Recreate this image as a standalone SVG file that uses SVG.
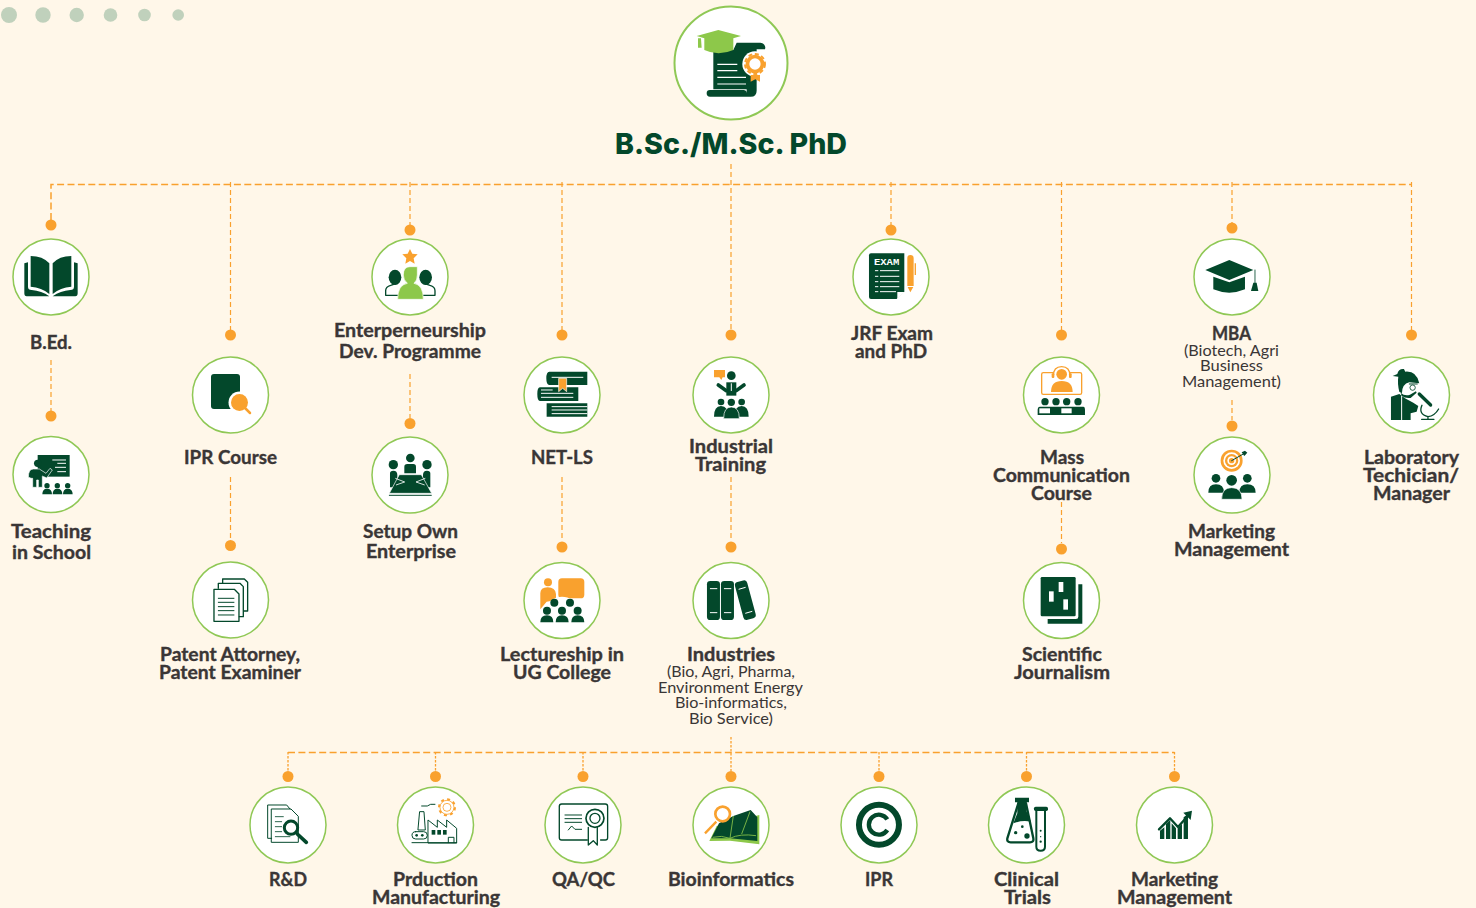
<svg xmlns="http://www.w3.org/2000/svg" width="1476" height="908" viewBox="0 0 1476 908">
<style>
.ring{fill:#fff;stroke:#8fc855;stroke-width:1.5}
.dot{fill:#f9a12e}
.bg{fill:#c0d1bc}
.t{font-family:"Lato","Open Sans",sans-serif;font-weight:700;font-size:18px;fill:#3a3636;stroke:#3a3636;stroke-width:.35}
.s{font-family:"Lato","Open Sans",sans-serif;font-weight:400;font-size:15px;fill:#3a3636}
.title{font-family:"Inter","Open Sans",sans-serif;font-weight:800;font-size:29px;fill:#03482b}
.h{fill:none;stroke:#f9a12e;stroke-width:1.5;stroke-dasharray:7 3.4}
.v{fill:none;stroke:#f9a12e;stroke-width:1.2;stroke-dasharray:5 3}
.vs{fill:none;stroke:#f9a12e;stroke-width:1.3;stroke-dasharray:2.500 1.500}
.d{fill:#03482b}.o{fill:#f9a12e}.g{fill:#8dc84a}.w{fill:#fff}
.ds{fill:none;stroke:#03482b;stroke-width:4;stroke-linecap:round;stroke-linejoin:round}
.ws{fill:none;stroke:#fff;stroke-width:3.5}
.os{fill:none;stroke:#f9a12e;stroke-width:4}
</style>
<rect width="1476" height="908" fill="#fff7e9"/>
<g id="decor"><circle class="bg" cx="9" cy="15" r="8"/><circle class="bg" cx="43" cy="15" r="7.700"/><circle class="bg" cx="76.700" cy="15" r="7.200"/><circle class="bg" cx="110.500" cy="15" r="6.800"/><circle class="bg" cx="144.500" cy="15" r="6.300"/><circle class="bg" cx="178.200" cy="15" r="5.800"/></g>
<g id="connectors">
<path class="h" d="M51 220V184.500H1411.500"/>
<path class="h" d="M288 752.500H1174.500"/>
<path class="v" d="M230.500 182V330M410 182V225M562 182V330M731 164V330M891 182V225M1061.500 182V330M1232 182V223M1411.500 182V330"/>
<path class="v" d="M51 360V411M230.500 477V540M410 374V418M562 477V541M731 477V541M1061.500 502V543M1232 400V420"/>
<path class="vs" d="M288 752V771M435.500 752V771M583 752V771M731 737V771M879 752V771M1026.500 752V771M1174.500 752V771"/>
<g id="dots"><circle class="dot" cx="51" cy="225" r="5.500"/><circle class="dot" cx="51" cy="416" r="5.500"/><circle class="dot" cx="230.500" cy="335" r="5.500"/><circle class="dot" cx="230.500" cy="545.500" r="5.500"/><circle class="dot" cx="410" cy="230" r="5.500"/><circle class="dot" cx="410" cy="423.500" r="5.500"/><circle class="dot" cx="562" cy="335" r="5.500"/><circle class="dot" cx="562" cy="547" r="5.500"/><circle class="dot" cx="731" cy="335" r="5.500"/><circle class="dot" cx="731" cy="547" r="5.500"/><circle class="dot" cx="891" cy="230" r="5.500"/><circle class="dot" cx="1061.500" cy="335" r="5.500"/><circle class="dot" cx="1061.500" cy="549" r="5.500"/><circle class="dot" cx="1232" cy="228" r="5.500"/><circle class="dot" cx="1232" cy="426" r="5.500"/><circle class="dot" cx="1411.500" cy="335" r="5.500"/><circle class="dot" cx="288" cy="776.500" r="5.500"/><circle class="dot" cx="435.500" cy="776.500" r="5.500"/><circle class="dot" cx="583" cy="776.500" r="5.500"/><circle class="dot" cx="731" cy="776.500" r="5.500"/><circle class="dot" cx="879" cy="776.500" r="5.500"/><circle class="dot" cx="1026.500" cy="776.500" r="5.500"/><circle class="dot" cx="1174.500" cy="776.500" r="5.500"/></g>
</g>

<g id="root"><circle class="ring" cx="731" cy="63" r="56.500" style="stroke-width:2"/>
<g transform="translate(600 0) scale(.3333)">
<path class="d" d="M340 150H400L410 128H480A15 15 0 0 1 495 148H470V272Q470 290 452 290H330A10 10 0 0 1 330 270H430Q440 270 440 280V268H340Z"/>
<path class="ws" d="M352 193H412M352 212H412M352 232H438M352 252H438"/>
<path class="g" d="M290 108L355 90L423 108L400 115V150Q355 170 313 150V115ZM294 115H303L305 143H294Z"/>
<circle class="w" cx="465" cy="192" r="38"/>
<path class="o" d="M452 225H480V245L466 238L452 245Z"/>
<circle class="o" cx="465" cy="192" r="28"/><circle cx="465" cy="192" r="30" fill="none" stroke="#f9a12e" stroke-width="6" stroke-dasharray="12 8"/><circle class="w" cx="465" cy="192" r="17"/>
</g>
<text class="title" x="615" y="154" textLength="232" lengthAdjust="spacingAndGlyphs">B.Sc./M.Sc. PhD</text></g>

<g id="bed"><circle class="ring" cx="51" cy="277" r="38"/>
<g transform="scale(.3333)">
<path class="d" d="M92 768Q128 768 148 790V882Q125 862 92 860ZM214 768Q178 768 158 790V882Q181 862 214 860ZM73 790L84 787V860Q84 870 95 870Q125 872 148 889H80Q73 889 73 880ZM233 790L222 787V860Q222 870 211 870Q181 872 158 889H226Q233 889 233 880Z"/>
</g>
<text class="t" x="30" y="349" textLength="42" lengthAdjust="spacingAndGlyphs">B.Ed.</text></g>

<g id="teaching"><circle class="ring" cx="51" cy="474.500" r="38"/>
<g transform="translate(0 400) scale(.3333)">
<rect class="d" x="113" y="165" width="96" height="65"/>
<path class="ws" d="M157 180H198M172 190H198M165 202H198M172 215H198" style="stroke-width:3"/>
<path class="d" d="M85 232Q85 207 100 207H118L138 220L150 205L157 210L140 234L127 228V262H115V240H110V262H98V235H92V234Z" stroke="#fff" stroke-width="2"/>
<circle class="d" cx="113" cy="190" r="11"/>
<path class="d" d="M127 283Q127 266 141 266Q156 266 156 283ZM158 283Q158 266 172 266Q187 266 187 283ZM189 283Q189 266 203 266Q218 266 218 283Z"/>
<circle class="d" cx="141" cy="257" r="8"/><circle class="d" cx="172" cy="257" r="8"/><circle class="d" cx="203" cy="257" r="8"/>
</g>
<text class="t" x="11" y="538" textLength="80" lengthAdjust="spacingAndGlyphs">Teaching</text><text class="t" x="12" y="559" textLength="79" lengthAdjust="spacingAndGlyphs">in School</text></g>

<g id="ipr-course"><circle class="ring" cx="230.500" cy="395" r="38"/>
<rect class="d" x="211" y="374" width="29" height="35" rx="3"/><circle class="w" cx="239.500" cy="402.500" r="11"/><circle class="o" cx="239.500" cy="402.500" r="8.500"/><path d="M245 408L250 413" stroke="#f9a12e" stroke-width="2.500" stroke-linecap="round"/>
<text class="t" x="184" y="464" textLength="93" lengthAdjust="spacingAndGlyphs">IPR Course</text></g>

<g id="patent"><circle class="ring" cx="230.500" cy="600" r="38"/>
<g transform="translate(0 400) scale(.3333)">
<path class="ds" d="M668 548V537H733L743 547V633H731M655 565V550H720L730 560V650H718" stroke-linecap="butt"/>
<path class="ds" d="M642 568H703L717 582V664H642Z"/>
<path class="ds" d="M655 595H702M655 607H702M655 620H702M655 632H702M655 645H702" style="stroke-width:3"/>
</g>
<text class="t" x="160" y="661" textLength="140" lengthAdjust="spacingAndGlyphs">Patent Attorney,</text><text class="t" x="159" y="679" textLength="142" lengthAdjust="spacingAndGlyphs">Patent Examiner</text></g>

<g id="enterpreneurship"><circle class="ring" cx="410" cy="277" r="38"/>
<g transform="translate(320 220) scale(.3333)">
<path class="o" d="M270 87L277 101L293 103L281 115L284 131L270 123L256 131L259 115L247 103L263 101Z"/>
<ellipse class="d" cx="225" cy="172" rx="19" ry="23"/><ellipse class="d" cx="317" cy="172" rx="19" ry="23"/>
<path class="ds" d="M197 226V212Q197 200 212 196L228 191M345 226V212Q345 200 330 196L314 191M197 226H235M345 226H305"/>
<path class="g" d="M233 238Q233 195 262 190Q250 180 250 165Q250 140 270 140H292V165Q292 182 282 190Q310 195 310 238Z" stroke="#fff" stroke-width="2"/>
</g>
<text class="t" x="334" y="337" textLength="152" lengthAdjust="spacingAndGlyphs">Enterperneurship</text><text class="t" x="339" y="358" textLength="142" lengthAdjust="spacingAndGlyphs">Dev. Programme</text></g>

<g id="setup"><circle class="ring" cx="410" cy="475" r="38"/>
<g transform="translate(350 430) scale(.3333)">
<circle class="d" cx="130" cy="104" r="14"/><circle class="d" cx="181" cy="84" r="13"/><circle class="d" cx="231" cy="104" r="14"/>
<path class="d" d="M163 130V110Q163 102 172 102H190Q198 102 198 110V130Z"/>
<path class="d" d="M120 172V130Q120 122 130 122Q142 122 142 135V172ZM241 172V130Q241 122 231 122Q219 122 219 135V172Z"/>
<path class="d" d="M148 134H214L245 190H118Z" stroke="#fff" stroke-width="2"/>
<path class="ws" d="M136 145L164 156L138 165M226 145L198 156L224 165" style="stroke-width:2.500"/>
<path class="ds" d="M118 196H244" style="stroke-width:3"/>
</g>
<text class="t" x="363" y="537.500" textLength="95" lengthAdjust="spacingAndGlyphs">Setup Own</text><text class="t" x="366" y="558" textLength="90" lengthAdjust="spacingAndGlyphs">Enterprise</text></g>

<g id="net-ls"><circle class="ring" cx="562" cy="395" r="38"/>
<g transform="translate(320 220) scale(.3333)">
<path class="d" d="M688 455H802V495H688Q679 495 679 475Q679 455 688 455ZM660 502H775V543H660Q652 543 652 522Q652 502 660 502ZM680 550H802V590H680Z"/>
<path class="ws" d="M695 472H790M663 510H698M663 520H760M663 532H760M695 560H802M695 570H802M695 581H802" style="stroke-width:3"/>
<path class="o" d="M716 475H740V515L728 505L716 515Z" stroke="#fff" stroke-width="2"/>
</g>
<text class="t" x="531" y="464" textLength="62" lengthAdjust="spacingAndGlyphs">NET-LS</text></g>

<g id="lectureship"><circle class="ring" cx="562" cy="600.500" r="38"/>
<g transform="translate(350 430) scale(.3333)">
<circle class="o" cx="594" cy="457" r="12"/>
<path class="o" d="M571 538V490Q571 472 593 472Q616 472 618 492V510L590 515Z"/>
<rect class="o" x="625" y="445" width="78" height="60" rx="11"/>
<ellipse class="w" cx="636" cy="530" rx="42" ry="30"/>
<circle class="d" cx="613" cy="518" r="12"/><circle class="d" cx="660" cy="518" r="12"/><circle class="d" cx="591" cy="542" r="12"/><circle class="d" cx="636" cy="542" r="12"/><circle class="d" cx="683" cy="542" r="12"/>
<path class="d" d="M571 577Q571 556 591 556Q610 556 610 577ZM617 577Q617 556 636 556Q656 556 656 577ZM664 577Q664 556 683 556Q703 556 703 577Z"/>
</g>
<text class="t" x="500" y="661" textLength="124" lengthAdjust="spacingAndGlyphs">Lectureship in</text><text class="t" x="513" y="679" textLength="98" lengthAdjust="spacingAndGlyphs">UG College</text></g>

<g id="training"><circle class="ring" cx="731" cy="395" r="38"/>
<g transform="translate(660 220) scale(.3333)">
<path class="o" d="M162 450H195V472H188L184 480L178 472H162Z"/>
<circle class="d" cx="214" cy="467" r="13"/>
<path class="d" d="M199 487H229V527H199Z"/>
<path class="ds" d="M175 495L199 512M252 495L229 512" style="stroke-width:11"/>
<path class="ws" d="M214 490V513" style="stroke-width:3"/>
<circle class="d" cx="183" cy="546" r="10"/><circle class="d" cx="245" cy="546" r="10"/>
<path class="d" d="M162 590Q162 558 183 558Q205 558 205 590ZM223 590Q223 558 245 558Q266 558 266 590Z"/>
<circle class="d" cx="214" cy="547" r="11"/>
<path class="d" d="M191 596Q191 561 214 561Q238 561 238 596Z" stroke="#fff" stroke-width="2"/>
</g>
<text class="t" x="689" y="453" textLength="84" lengthAdjust="spacingAndGlyphs">Industrial</text><text class="t" x="695" y="471" textLength="71" lengthAdjust="spacingAndGlyphs">Training</text></g>

<g id="industries"><circle class="ring" cx="731" cy="600.500" r="38"/>
<g transform="translate(350 430) scale(.3333)">
<rect class="d" x="1071" y="453" width="39" height="117" rx="10"/><rect class="d" x="1113" y="453" width="39" height="117" rx="10"/><rect class="d" x="1167" y="452" width="38" height="117" rx="10" transform="rotate(-15 1186 510)"/>
<path class="ws" d="M1080 476H1102M1080 548H1102M1122 476H1144M1122 548H1144M1166 478L1187 472M1186 550L1207 544" style="stroke-width:3"/>
</g>
<text class="t" x="687" y="661" textLength="88" lengthAdjust="spacingAndGlyphs">Industries</text>
<text class="s" x="667" y="677" textLength="128" lengthAdjust="spacingAndGlyphs">(Bio, Agri, Pharma,</text><text class="s" x="658" y="692.500" textLength="145" lengthAdjust="spacingAndGlyphs">Environment Energy</text><text class="s" x="675" y="708" textLength="112" lengthAdjust="spacingAndGlyphs">Bio-informatics,</text><text class="s" x="689" y="723.500" textLength="84" lengthAdjust="spacingAndGlyphs">Bio Service)</text></g>

<g id="jrf"><circle class="ring" cx="891" cy="277" r="38"/>
<g transform="translate(660 220) scale(.3333)">
<path class="d" d="M633 100H733V214L710 237H633Q627 237 627 231V106Q627 100 633 100Z"/>
<path class="w" d="M712 237V216H733Z"/>
<path class="ws" d="M660 152H718M660 169H718M660 185H718M660 200H718M660 215H708M645 152H655M645 169H655M645 185H655M645 200H655M645 215H655" style="stroke-width:3"/>
<text x="642" y="134" font-family="Liberation Mono,monospace" font-weight="700" font-size="28" fill="#fff" textLength="76" lengthAdjust="spacingAndGlyphs">EXAM</text>
<path class="o" d="M742 115Q742 105 751 105Q761 105 761 115V198H742ZM743 201H760L751 217ZM764 130H768V165H764Z"/>
</g>
<text class="t" x="851" y="340" textLength="82" lengthAdjust="spacingAndGlyphs">JRF Exam</text><text class="t" x="855" y="358" textLength="72" lengthAdjust="spacingAndGlyphs">and PhD</text></g>

<g id="mass"><circle class="ring" cx="1061.500" cy="395" r="38"/>
<g transform="translate(1000 220) scale(.3333)">
<rect x="125" y="458" width="120" height="65" rx="5" class="os" style="stroke-width:4"/>
<circle class="w" cx="185" cy="462" r="25"/>
<path class="os" d="M160 468Q160 440 185 440Q210 440 210 468"/>
<rect class="o" x="155" y="460" width="8" height="14" rx="3"/><rect class="o" x="207" y="460" width="8" height="14" rx="3"/>
<circle class="o" cx="185" cy="463" r="16"/>
<path class="o" d="M153 516Q153 483 185 483Q218 483 218 516Z"/>
<circle class="d" cx="135" cy="545" r="11"/><circle class="d" cx="168" cy="545" r="11"/><circle class="d" cx="200" cy="545" r="11"/><circle class="d" cx="234" cy="545" r="11"/>
<path class="d" d="M120 560H250Q255 560 255 570V585H113V570Q113 560 120 560Z"/>
<rect class="w" x="118" y="565" width="32" height="15"/><rect class="w" x="184" y="565" width="31" height="15"/>
</g>
<text class="t" x="1040" y="464" textLength="44" lengthAdjust="spacingAndGlyphs">Mass</text><text class="t" x="993" y="482" textLength="137" lengthAdjust="spacingAndGlyphs">Communication</text><text class="t" x="1031" y="500" textLength="61" lengthAdjust="spacingAndGlyphs">Course</text></g>

<g id="journalism"><circle class="ring" cx="1061.500" cy="600.500" r="38"/>
<g transform="translate(1000 520) scale(.3333)">
<rect class="d" x="122" y="171" width="105" height="118" rx="4"/>
<path class="d" d="M235 193H247V311H143V297H228Q235 297 235 290Z"/>
<rect class="w" x="147" y="214" width="14" height="31"/><rect class="w" x="176" y="186" width="14" height="30"/><rect class="w" x="190" y="238" width="14" height="31"/>
</g>
<text class="t" x="1022" y="661" textLength="80" lengthAdjust="spacingAndGlyphs">Scientific</text><text class="t" x="1014" y="679" textLength="96" lengthAdjust="spacingAndGlyphs">Journalism</text></g>

<g id="mba"><circle class="ring" cx="1232" cy="277" r="38"/>
<g transform="translate(1000 220) scale(.3333)">
<path class="d" d="M616 150L688 120L760 150L688 180ZM640 170L688 187L735 170V208Q688 228 640 208Z"/>
<path class="ds" d="M765 150V190" style="stroke-width:2.500"/>
<path class="d" d="M760 188H770L775 213H753Z"/>
</g>
<text class="t" x="1212" y="340" textLength="39" lengthAdjust="spacingAndGlyphs">MBA</text>
<text class="s" x="1184" y="355.500" textLength="95" lengthAdjust="spacingAndGlyphs">(Biotech, Agri</text><text class="s" x="1200" y="371" textLength="63" lengthAdjust="spacingAndGlyphs">Business</text><text class="s" x="1182" y="387" textLength="99" lengthAdjust="spacingAndGlyphs">Management)</text></g>

<g id="marketing"><circle class="ring" cx="1232" cy="475" r="38"/>
<g transform="translate(1000 220) scale(.3333)">
<circle class="o" cx="695" cy="722" r="33"/><circle class="w" cx="695" cy="722" r="25"/><circle class="o" cx="695" cy="722" r="20"/><circle class="w" cx="695" cy="722" r="13"/><circle class="o" cx="695" cy="722" r="8"/>
<path class="ds" d="M695 722L730 702" style="stroke-width:3"/><path class="d" d="M725 697L735 692L742 698L733 708Z"/>
<circle class="d" cx="648" cy="775" r="13"/><circle class="d" cx="742" cy="775" r="13"/><circle class="d" cx="695" cy="781" r="16"/>
<path class="d" d="M625 818Q625 793 648 793Q672 793 672 818ZM718 818Q718 793 742 793Q767 793 767 818Z"/>
<path class="d" d="M665 838Q665 803 695 803Q726 803 726 838Z" stroke="#fff" stroke-width="2"/>
</g>
<text class="t" x="1188" y="537.500" textLength="87" lengthAdjust="spacingAndGlyphs">Marketing</text><text class="t" x="1174" y="555.500" textLength="115" lengthAdjust="spacingAndGlyphs">Management</text></g>

<g id="lab"><circle class="ring" cx="1411.500" cy="395" r="38"/>
<g transform="translate(1000 220) scale(.3333)">
<path class="d" d="M1173 600V530L1198 522L1215 535L1240 548L1255 558L1250 575L1232 580V600Z"/>
<path class="ws" d="M1205 528V600" style="stroke-width:3"/>
<path class="d" d="M1178 468L1192 462Q1196 445 1212 447L1216 455Q1250 452 1258 490L1228 487Q1206 492 1206 520L1198 515Q1192 490 1195 470Z"/>
<path class="ds" d="M1228 492H1252" style="stroke-width:3"/>
<circle cx="1238" cy="503" r="8" fill="none" stroke="#03482b" stroke-width="2.500"/>
<path class="d" d="M1202 518Q1215 530 1230 524L1248 514L1250 518L1232 534Q1215 536 1205 527Z"/>
<path class="ds" d="M1258 522L1292 555" style="stroke-width:10"/>
<path class="ds" d="M1266 556Q1254 582 1284 590Q1304 588 1316 567M1265 598H1302M1284 590V598" style="stroke-width:4"/>
</g>
<text class="t" x="1364" y="464" textLength="95" lengthAdjust="spacingAndGlyphs">Laboratory</text><text class="t" x="1363" y="482" textLength="96" lengthAdjust="spacingAndGlyphs">Techician/</text><text class="t" x="1373" y="500" textLength="77" lengthAdjust="spacingAndGlyphs">Manager</text></g>

<g id="rd"><circle class="ring" cx="288" cy="825" r="38"/>
<g transform="translate(240 740) scale(.3333)">
<path class="ds" d="M95 295H83V195H140L150 207M95 207H153L175 229V307H95Z" style="stroke-width:3"/>
<path class="ds" d="M106 230H130M106 245H125M106 260H125M106 275H125M106 290H150" style="stroke-width:2.500"/>
<circle cx="153" cy="263" r="20" fill="#fff" stroke="#03482b" stroke-width="9"/>
<path class="ds" d="M172 282L199 307" style="stroke-width:11"/>
</g>
<text class="t" x="269" y="886" textLength="38" lengthAdjust="spacingAndGlyphs">R&amp;D</text></g>

<g id="production"><circle class="ring" cx="435.500" cy="825" r="38"/>
<g transform="translate(240 740) scale(.3333)">
<circle cx="621" cy="202" r="24" fill="none" stroke="#f9a12e" stroke-width="6" stroke-dasharray="9 9.800"/><circle cx="621" cy="202" r="21" class="os" style="stroke-width:2.500"/><circle cx="621" cy="202" r="12" class="os" style="stroke-width:2.500"/>
<path class="ds" d="M545 198H562L572 193H585M540 215H552L556 270H535Z" style="stroke-width:3"/>
<path class="ds" d="M564 308V240L592 262V240L620 262V240L650 265V308ZM516 308H650M625 308V292H642V308" style="stroke-width:3"/>
<rect class="d" x="575" y="270" width="11" height="14"/><rect class="d" x="592" y="270" width="11" height="14"/><rect class="d" x="609" y="270" width="11" height="14"/>
<rect x="516" y="275" width="46" height="22" rx="11" class="ds" style="stroke-width:3"/>
<circle class="d" cx="530" cy="286" r="4"/><circle class="d" cx="547" cy="286" r="4"/>
</g>
<text class="t" x="393" y="886" textLength="85" lengthAdjust="spacingAndGlyphs">Prduction</text><text class="t" x="372" y="904" textLength="128" lengthAdjust="spacingAndGlyphs">Manufacturing</text></g>

<g id="qa"><circle class="ring" cx="583" cy="825" r="38"/>
<g transform="translate(240 740) scale(.3333)">
<path class="ds" d="M1042 300H965Q958 300 958 293V199Q958 192 965 192H1096Q1103 192 1103 199V293Q1103 300 1096 300H1082" style="stroke-width:4"/>
<path class="ds" d="M975 225H1025M975 236H1025M975 247H1025M985 270L995 258L1005 268H1025" style="stroke-width:3"/>
<path class="ds" d="M1045 262V315L1060 302L1072 315V262" style="stroke-width:4"/>
<circle cx="1065" cy="235" r="27" fill="#fff" stroke="#03482b" stroke-width="5"/><circle cx="1065" cy="235" r="15" class="ds"/>
</g>
<text class="t" x="552" y="886" textLength="63" lengthAdjust="spacingAndGlyphs">QA/QC</text></g>

<g id="bioinformatics"><circle class="ring" cx="731" cy="825" r="38"/>
<g transform="translate(650 740) scale(.3333)">
<path class="g" d="M178 303L200 258L328 225V313L240 302Z"/>
<path class="d" d="M184 295L207 250L250 228L302 210L322 232V303L240 295Z"/>
<path d="M240 295L250 228M275 282L300 215M240 295Q270 280 318 287M188 292Q215 285 240 295" fill="none" stroke="#8dc84a" stroke-width="2.500"/>
<path class="os" d="M165 280L199 245" style="stroke-width:7"/>
<circle cx="218" cy="222" r="22" fill="#fff" stroke="#f9a12e" stroke-width="8"/>
</g>
<text class="t" x="668" y="886" textLength="126" lengthAdjust="spacingAndGlyphs">Bioinformatics</text></g>

<g id="ipr"><circle class="ring" cx="879" cy="825" r="38"/>
<g transform="translate(650 740) scale(.3333)">
<circle cx="687" cy="254" r="60" fill="none" stroke="#03482b" stroke-width="18"/>
<path d="M712 238A30 30 0 1 0 712 270" fill="none" stroke="#03482b" stroke-width="13"/>
</g>
<text class="t" x="865" y="886" textLength="28" lengthAdjust="spacingAndGlyphs">IPR</text></g>

<g id="clinical"><circle class="ring" cx="1026.500" cy="825" r="38"/>
<g transform="translate(950 740) scale(.3333)">
<path class="d" d="M195 173H237V187H230V215L243 245Q215 240 190 250L202 220V187H195Z"/>
<path class="ds" d="M205 190L172 295Q170 307 182 307H240Q252 307 250 295L228 190" style="stroke-width:7"/>
<circle class="d" cx="197" cy="278" r="5"/><circle class="d" cx="231" cy="288" r="8"/><circle class="d" cx="217" cy="260" r="4"/>
<rect class="d" x="252" y="200" width="42" height="13" rx="5"/>
<path class="ds" d="M259 213V320Q259 332 272 332Q285 332 285 320V213" style="stroke-width:6"/>
<circle class="d" cx="272" cy="272" r="3"/><circle class="d" cx="272" cy="305" r="3.500"/><circle class="d" cx="272" cy="290" r="2"/>
</g>
<text class="t" x="994" y="886" textLength="65" lengthAdjust="spacingAndGlyphs">Clinical</text><text class="t" x="1004" y="904" textLength="47" lengthAdjust="spacingAndGlyphs">Trials</text></g>

<g id="chart"><circle class="ring" cx="1174.500" cy="825" r="38"/>
<g transform="translate(950 740) scale(.3333)">
<path class="d" d="M630 272L643 262V297H630ZM648 252L661 240V297H648ZM665 250L678 265V297H665ZM683 265L696 252V297H683ZM701 232L714 222V297H701Z"/>
<path class="ds" d="M627 268L660 235L684 261L716 225" style="stroke-width:7"/>
<path class="d" d="M700 218L726 212L722 240Z"/>
</g>
<text class="t" x="1131" y="886" textLength="87" lengthAdjust="spacingAndGlyphs">Marketing</text><text class="t" x="1117" y="904" textLength="115" lengthAdjust="spacingAndGlyphs">Management</text></g>
</svg>
